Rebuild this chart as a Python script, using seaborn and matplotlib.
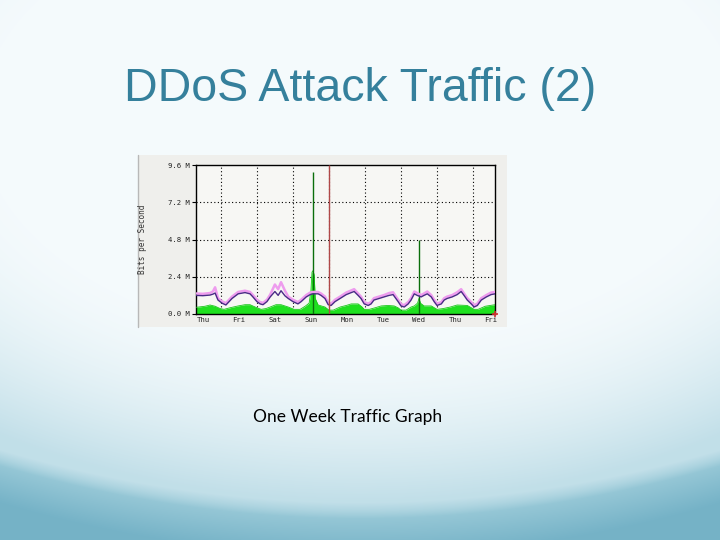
import numpy as np
import pandas as pd
import matplotlib
matplotlib.use("Agg")
import matplotlib.pyplot as plt
from matplotlib.patches import Rectangle
from matplotlib.lines import Line2D
import seaborn as sns

# ---------------- data (Mbit/s, x in days from left edge) ----------------
avg_days = [0.00, 0.19, 0.39, 0.47, 0.53, 0.61, 0.72, 0.83, 1.00, 1.17, 1.36, 1.50,
            1.58, 1.69, 1.78, 1.86, 1.97, 2.06, 2.19, 2.28, 2.36, 2.47, 2.56, 2.69,
            2.83, 2.92, 3.06, 3.17, 3.25, 3.39, 3.47, 3.58, 3.67, 3.75, 3.86, 4.00,
            4.17, 4.31, 4.39, 4.50, 4.58, 4.67, 4.78, 4.86, 4.94, 5.08, 5.22, 5.36,
            5.47, 5.61, 5.69, 5.78, 5.89, 5.97, 6.06, 6.14, 6.25, 6.33, 6.42, 6.53,
            6.61, 6.69, 6.81, 6.89, 6.97, 7.11, 7.25, 7.36, 7.44, 7.53, 7.64, 7.72,
            7.81, 7.92, 8.06, 8.19, 8.30]
out_avg = [1.20, 1.18, 1.22, 1.28, 1.35, 0.90, 0.70, 0.58, 1.00, 1.30, 1.38, 1.30,
           1.10, 0.80, 0.65, 0.60, 0.80, 1.10, 1.45, 1.20, 1.50, 1.17, 1.00, 0.80,
           0.65, 0.80, 1.10, 1.25, 1.30, 1.30, 1.20, 1.00, 0.60, 0.55, 0.80, 1.00,
           1.25, 1.38, 1.45, 1.20, 1.00, 0.65, 0.55, 0.65, 0.90, 1.00, 1.10, 1.20,
           1.25, 0.80, 0.52, 0.45, 0.65, 0.90, 1.30, 1.20, 1.10, 1.20, 1.30, 1.10,
           0.80, 0.55, 0.65, 0.90, 1.00, 1.10, 1.25, 1.45, 1.20, 0.90, 0.65, 0.45,
           0.55, 0.90, 1.10, 1.25, 1.30]
out_max = [1.32, 1.30, 1.35, 1.45, 1.72, 1.02, 0.82, 0.70, 1.12, 1.42, 1.50, 1.42,
           1.22, 0.92, 0.77, 0.72, 0.92, 1.25, 1.90, 1.60, 2.05, 1.50, 1.12, 0.92,
           0.77, 0.92, 1.22, 1.38, 1.42, 1.42, 1.32, 1.12, 0.72, 0.67, 0.92, 1.12,
           1.38, 1.52, 1.60, 1.32, 1.12, 0.77, 0.67, 0.77, 1.02, 1.12, 1.22, 1.35,
           1.40, 0.92, 0.64, 0.57, 0.77, 1.02, 1.45, 1.35, 1.22, 1.32, 1.45, 1.22,
           0.92, 0.67, 0.77, 1.02, 1.12, 1.22, 1.40, 1.60, 1.32, 1.02, 0.77, 0.57,
           0.67, 1.02, 1.22, 1.38, 1.42]

in_days = [0.00, 0.25, 0.39, 0.53, 0.67, 0.78, 0.94, 1.17, 1.36, 1.50, 1.69, 1.81,
           1.94, 2.06, 2.22, 2.36, 2.56, 2.72, 2.89, 3.03, 3.14, 3.19, 3.22, 3.25,
           3.28, 3.31, 3.39, 3.58, 3.69, 3.81, 4.00, 4.17, 4.31, 4.50, 4.61, 4.67,
           4.81, 4.97, 5.14, 5.33, 5.50, 5.61, 5.69, 5.83, 5.97, 6.06, 6.15, 6.19,
           6.23, 6.33, 6.53, 6.69, 6.86, 7.06, 7.25, 7.53, 7.72, 7.83, 8.03, 8.30]
in_avg = [0.43, 0.50, 0.58, 0.50, 0.35, 0.30, 0.40, 0.52, 0.60, 0.60, 0.40, 0.30,
          0.35, 0.45, 0.60, 0.60, 0.45, 0.30, 0.30, 0.50, 0.70, 1.50, 2.70, 2.80,
          2.50, 1.00, 0.58, 0.45, 0.25, 0.25, 0.45, 0.55, 0.65, 0.65, 0.45, 0.30,
          0.30, 0.40, 0.52, 0.55, 0.52, 0.40, 0.25, 0.25, 0.45, 0.52, 0.70, 1.00,
          0.70, 0.52, 0.52, 0.30, 0.35, 0.45, 0.58, 0.55, 0.30, 0.30, 0.50, 0.60]

spike_days = [3.25, 6.19]
spike_peak = [9.15, 4.80]
week_start_day = [3.69]
now_marker_day = [8.30]

y_ticks = [0.0, 2.4, 4.8, 7.2, 9.6]
y_tick_labels = ["0.0 M", "2.4 M", "4.8 M", "7.2 M", "9.6 M"]
day_labels = ["Thu", "Fri", "Sat", "Sun", "Mon", "Tue", "Wed", "Thu", "Fri"]

title_text = "DDoS Attack Traffic (2)"
caption_text = "One Week Traffic Graph"
ylabel_text = "Bits per Second"

# ---------------- figure ----------------
sns.set_theme(style="white")
plt.rcParams["font.family"] = ["Liberation Sans", "DejaVu Sans"]

W, H = 720, 540
fig = plt.figure(figsize=(7.2, 5.4), dpi=100)

# slide background (decorative gradient with a curved swoosh)
bg = fig.add_axes([0, 0, 1, 1], zorder=-10)
yy, xx = np.mgrid[0:H, 0:W].astype(float)
r = np.sqrt(((xx - 360) / 640.0) ** 2 + ((yy - 120) / 380.0) ** 2)
boundary = 445 + 65 * (1 - ((xx - 360) / 400.0) ** 2)
c_top = np.array([0.960, 0.982, 0.990])
c_mid = np.array([0.760, 0.875, 0.912])
c_sw1 = np.array([0.610, 0.795, 0.850])
c_sw2 = np.array([0.460, 0.700, 0.780])
t = np.clip((r - 0.55) / 0.45, 0, 1)[..., None] ** 1.8
upper = c_top * (1 - t) + c_mid * t
d = np.clip((yy - boundary) / 45.0, 0, 1)[..., None]
lower = c_sw1 * (1 - d) + c_sw2 * d
edge = np.clip((yy - boundary + 8) / 16.0, 0, 1)[..., None]
img = upper * (1 - edge) + lower * edge
bg.imshow(np.clip(img, 0, 1), aspect="auto", extent=[0, W, H, 0])
bg.set_xlim(0, W)
bg.set_ylim(H, 0)
bg.axis("off")

# MRTG panel
def fx(px):
    return px / W

def fy(py):
    return 1 - py / H

fig.patches.append(Rectangle((fx(138), fy(327)), fx(507) - fx(138), fy(155) - fy(327),
                             transform=fig.transFigure, facecolor="#efefec",
                             edgecolor="none", zorder=-5))
fig.lines.append(Line2D([fx(138), fx(138)], [fy(327), fy(155)], transform=fig.transFigure,
                        color="#b8b8b8", lw=1.0, zorder=-4))

ax = fig.add_axes([fx(196), fy(314), fx(495) - fx(196), fy(165) - fy(314)])
ax.set_facecolor("#f7f7f4")

x_max = 8.30
ax.set_xlim(0, x_max)
ax.set_ylim(0, 9.6)

first_midnight = 0.69
midnights = np.arange(first_midnight, x_max, 1.0)
label_pos = midnights - 0.5
label_pos = np.append(label_pos, label_pos[-1] + 1.0)

# grid
for m in midnights:
    ax.axvline(m, color="black", lw=0.8, ls=(0, (1, 2.2)), zorder=1)
for yv in y_ticks[1:-1]:
    ax.axhline(yv, color="black", lw=0.8, ls=(0, (1, 2.2)), zorder=1)

df_in = pd.DataFrame({"day": in_days, "val": in_avg})
df_out = pd.DataFrame({"day": avg_days, "avg": out_avg, "max": out_max})

ax.fill_between(df_in["day"], 0, df_in["val"], color="#1fe01f", lw=0, zorder=2)
sns.lineplot(data=df_in, x="day", y="val", ax=ax, color="#18c818", lw=0.6, zorder=3)
ax.vlines(spike_days, 0, spike_peak, color="#0b6e0b", lw=1.0, zorder=4)

sns.lineplot(data=df_out, x="day", y="max", ax=ax, color="#ee9cee", lw=1.8, zorder=5)
sns.lineplot(data=df_out, x="day", y="avg", ax=ax, color="#4a2a86", lw=1.0, zorder=6)

ax.vlines(week_start_day, 0, 9.6, color="#b04848", lw=1.0, zorder=7)
ax.plot(now_marker_day, [0], marker="+", color="#d03030", ms=5, mew=1.2,
        clip_on=False, zorder=8)

# axes styling
for s in ax.spines.values():
    s.set_color("black")
    s.set_linewidth(1.0)
ax.set_yticks(y_ticks)
ax.set_yticklabels(y_tick_labels, fontsize=5.2, family="DejaVu Sans Mono", color="#222222")
ax.tick_params(axis="y", direction="out", length=3, width=0.8, color="black", pad=1.5, left=True)
ax.set_xticks(label_pos)
ax.set_xticklabels(day_labels, fontsize=5.2, family="DejaVu Sans Mono", color="#222222")
ax.tick_params(axis="x", length=0, pad=2.5)
ax.set_xlabel("")
ax.set_ylabel(ylabel_text, fontsize=5.5, family="DejaVu Sans Mono", color="#333333")
ax.yaxis.set_label_coords((147 - 196) / 299.0, 0.5)
ax.grid(False)

# slide texts
fig.text(fx(360), fy(89), title_text, ha="center", va="center", fontsize=33.5,
         color="#35809c", family=["Liberation Sans", "DejaVu Sans"])
fig.text(fx(348), fy(417), caption_text, ha="center", va="center", fontsize=12.5,
         color="black", family=["Lato", "DejaVu Sans"])

fig.savefig("out.png", dpi=100)
